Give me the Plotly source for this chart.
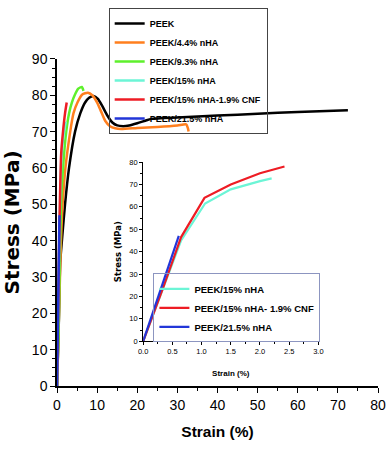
import plotly.graph_objects as go

# ---------------- data ----------------
peek_x = [0, 0.4, 0.8, 1.3, 2.0, 3.0, 4.5, 5.8, 7.0, 8.0, 9.1, 10.2, 11.3, 12.5, 13.8, 15.0,
          16.5, 18.0, 20.0, 22.0, 23.5, 30, 40, 50, 60, 72.5]
peek_y = [0, 15, 34, 41, 50, 60, 70, 75, 78, 79.3, 79.8, 79, 77, 74.5, 72.5, 71.7,
          71.5, 71.7, 72.3, 73, 73.5, 73.9, 74.4, 74.9, 75.4, 75.9]

nha44_x = [0, 0.5, 1.0, 1.4, 2.1, 3.3, 4.1, 5.1, 6.3, 7.7, 8.8, 10.0, 11.0, 12.0, 13.2, 14.5,
           16.0, 20.0, 25.0, 30.0, 32.2, 32.6, 32.8]
nha44_y = [0, 20, 40, 50, 60, 70, 75, 78, 80.2, 80.7, 80, 78, 75.5, 73, 71.5, 70.9,
           70.7, 71, 71.3, 71.7, 72, 71, 70]

nha93_x = [0, 0.4, 0.7, 1.0, 1.5, 2.3, 3.0, 3.7, 4.4, 5.3, 6.2, 6.6]
nha93_y = [0, 15, 35, 50, 60, 70, 75, 78, 80, 81.8, 82.3, 81.2]

nha15_x = [0, 0.65, 1.06, 1.5, 2.0, 2.2]
nha15_y = [0, 45, 61.5, 67.8, 71.5, 72.7]

cnf_x = [0, 0.33, 0.65, 1.05, 1.5, 2.0, 2.42]
cnf_y = [0, 23, 46.5, 64, 70, 75, 78]

nha215_x = [0, 0.61]
nha215_y = [0, 47]

main_names = ["PEEK", "PEEK/4.4% nHA", "PEEK/9.3% nHA", "PEEK/15% nHA",
              "PEEK/15% nHA-1.9% CNF", "PEEK/21.5% nHA"]
inset_names = ["PEEK/15% nHA", "PEEK/15% nHA- 1.9% CNF", "PEEK/21.5% nHA"]
colors = ["#000000", "#ff7f1e", "#5ef02c", "#6cf5d6", "#ee1c24", "#2236d8"]

main_tickvals_x = [0, 10, 20, 30, 40, 50, 60, 70, 80]
main_tickvals_y = [0, 10, 20, 30, 40, 50, 60, 70, 80, 90]
inset_tickvals_x = [0.0, 0.5, 1.0, 1.5, 2.0, 2.5, 3.0]
inset_tickvals_y = [0, 10, 20, 30, 40, 50, 60, 70, 80]

SANS = "Liberation Sans, Arial, sans-serif"
WIDE = "DejaVu Sans, Verdana, sans-serif"

# layout geometry (pixels of the 387x452 figure)
W, H = 387, 452
ML, MR, MT, MB = 55, 9, 0, 66
PW, PH = W - ML - MR, H - MT - MB


def fx(px):
    return (px - ML) / PW


def fy(py):
    return (H - MB - py) / PH


fig = go.Figure()

series = [(peek_x, peek_y), (nha44_x, nha44_y), (nha93_x, nha93_y),
          (nha15_x, nha15_y), (cnf_x, cnf_y), (nha215_x, nha215_y)]
for (xs, ys), name, col in zip(series, main_names, colors):
    fig.add_trace(go.Scatter(x=xs, y=ys, mode="lines", name=name,
                             line=dict(color=col, width=2.5, shape="spline", smoothing=0.6),
                             xaxis="x", yaxis="y", legend="legend"))

inset_series = [(nha15_x, nha15_y), (cnf_x, cnf_y), (nha215_x, nha215_y)]
for (xs, ys), name, col in zip(inset_series, inset_names, colors[3:]):
    fig.add_trace(go.Scatter(x=xs, y=ys, mode="lines", name=name,
                             line=dict(color=col, width=2.2),
                             xaxis="x2", yaxis="y2", legend="legend2"))

axis_common = dict(showline=True, linecolor="black", showgrid=False, zeroline=False,
                   ticks="outside", tickcolor="black", mirror=False)

fig.update_layout(
    width=W, height=H,
    margin=dict(l=ML, r=MR, t=MT, b=MB),
    paper_bgcolor="white", plot_bgcolor="white",
    xaxis=dict(**axis_common, automargin=False, domain=[0, 1], range=[0, 80], anchor="y",
               tickvals=main_tickvals_x, linewidth=1.5, ticklen=5, tickwidth=1.2,
               minor=dict(dtick=5, ticks="outside", ticklen=3, tickcolor="black"),
               tickfont=dict(family=SANS, size=14, color="black"),
               title=dict(text="Strain (%)",
                          font=dict(family=SANS, size=15.5, color="black", weight="bold"))),
    yaxis=dict(**axis_common, automargin=True, domain=[0, fy(52)], range=[0, 90], anchor="x",
               tickvals=main_tickvals_y, linewidth=1.5, ticklen=5, tickwidth=1.2,
               minor=dict(dtick=2.5, ticks="outside", ticklen=3, tickcolor="black"),
               tickfont=dict(family=SANS, size=14, color="black"),
               title=dict(text="Stress (MPa)", standoff=18,
                          font=dict(family=WIDE, size=20, color="black", weight="bold"))),
    xaxis2=dict(**axis_common, automargin=False, domain=[fx(141.7), fx(318)], range=[0, 3.0],
                anchor="y2", tickvals=inset_tickvals_x, tickformat=".1f", linewidth=1, ticklen=3,
                minor=dict(dtick=0.25, ticks="outside", ticklen=2, tickcolor="black"),
                tickfont=dict(family=SANS, size=7.5, color="black"),
                title=dict(text="Strain (%)",
                           font=dict(family=SANS, size=8, color="black", weight="bold"))),
    yaxis2=dict(**axis_common, automargin=True, domain=[fy(340.3), fy(157.3)], range=[0, 80],
                anchor="x2", tickvals=inset_tickvals_y, linewidth=1, ticklen=3,
                minor=dict(dtick=5, ticks="outside", ticklen=2, tickcolor="black"),
                tickfont=dict(family=SANS, size=7.5, color="black"),
                title=dict(text="Stress (MPa)", standoff=6,
                           font=dict(family=WIDE, size=8.5, color="black", weight="bold"))),
    legend=dict(x=fx(107), y=fy(0), xanchor="left", yanchor="top",
                bgcolor="rgba(255,255,255,0)", bordercolor="#444444", borderwidth=1,
                font=dict(family=SANS, size=9, color="black", weight="bold"), itemwidth=30,
                tracegroupgap=0),
    legend2=dict(x=fx(152), y=fy(271), xanchor="left", yanchor="top",
                 bgcolor="rgba(255,255,255,0)", bordercolor="#8c95c0", borderwidth=1,
                 font=dict(family=SANS, size=9.5, color="black", weight="bold"),
                 itemwidth=30, tracegroupgap=0),
    showlegend=True,
)

fig.write_html("out.html", config={"displayModeBar": False},
               post_script="document.body.style.margin='0px';document.body.style.overflow='hidden';")
